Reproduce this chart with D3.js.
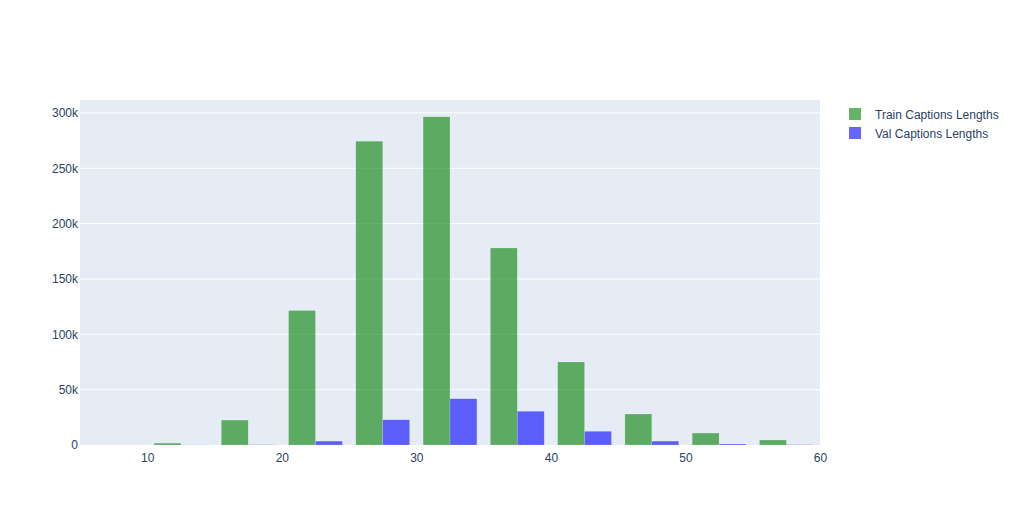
<!DOCTYPE html>
<html>
<head>
<meta charset="utf-8">
<script src="https://cdn.jsdelivr.net/npm/d3@7"></script>
<style>
  body { margin: 0; background: #fff; }
  text { font-family: "Liberation Sans", Arial, sans-serif; fill: #2a3f5f; }
</style>
</head>
<body>
<svg id="chart" width="1016" height="525"></svg>
<script>
// bins of caption length (start of each 5-wide bin)
const binStarts = [5, 10, 15, 20, 25, 30, 35, 40, 45, 50, 55];
const binWidth = 5;
// counts
const trainCounts = [0, 1700, 22500, 121500, 274500, 296500, 178000, 75000, 28000, 10800, 4500];
const valCounts = [0, 100, 200, 3500, 22800, 41800, 30500, 12400, 3500, 900, 300];
const seriesNames = ['Train Captions Lengths', 'Val Captions Lengths'];
const seriesColors = ['green', 'blue'];
const xTicks = [10, 20, 30, 40, 50, 60];
const yTicks = [0, 50000, 100000, 150000, 200000, 250000, 300000];

const svg = d3.select('#chart');
const margin = { left: 80, top: 100, right: 196, bottom: 80 };
const width = 1016 - margin.left - margin.right;
const height = 525 - margin.top - margin.bottom;

const x = d3.scaleLinear().domain([5, 60]).range([0, width]);
const y = d3.scaleLinear().domain([0, 311700]).range([height, 0]);

const g = svg.append('g').attr('transform', `translate(${margin.left},${margin.top})`);

// fond
g.append('rect').attr('width', width).attr('height', height).attr('fill', '#e5ecf6');

// grille
g.selectAll('.grid').data(yTicks.slice(1)).enter()
  .append('line')
  .attr('x1', 0).attr('x2', width)
  .attr('y1', d => y(d)).attr('y2', d => y(d))
  .attr('stroke', '#fff').attr('stroke-width', 1);

// barres groupées
const bargap = 0.2;
const series = [trainCounts, valCounts];
series.forEach((vals, si) => {
  const data = binStarts.map((b, i) => ({ b, v: vals[i] }));
  g.selectAll('.bar' + si).data(data.filter(d => d.v > 0)).enter()
    .append('rect')
    .attr('x', d => {
      const x0 = x(d.b), bw = x(d.b + binWidth) - x0;
      const inner = bw * (1 - bargap);
      return x0 + bw * bargap / 2 + si * inner / 2;
    })
    .attr('width', d => (x(d.b + binWidth) - x(d.b)) * (1 - bargap) / 2)
    .attr('y', d => y(d.v))
    .attr('height', d => height - y(d.v))
    .attr('fill', seriesColors[si])
    .attr('fill-opacity', 0.6)
    .attr('stroke', '#fff')
    .attr('stroke-opacity', 0.35)
    .attr('stroke-width', 0.5);
});

// axes
const yAxis = d3.axisLeft(y).tickValues(yTicks).tickSize(0).tickPadding(2)
  .tickFormat(d => d === 0 ? '0' : d3.format('~s')(d));
const ya = g.append('g').call(yAxis);
ya.select('.domain').remove();
ya.selectAll('text').attr('font-size', 12).attr('fill', '#2a3f5f')
  .style('font-family', '"Liberation Sans", Arial, sans-serif');

const xAxis = d3.axisBottom(x).tickValues(xTicks).tickSize(0).tickPadding(8);
const xa = g.append('g').attr('transform', `translate(0,${height})`).call(xAxis);
xa.select('.domain').remove();
xa.selectAll('text').attr('font-size', 12).attr('fill', '#2a3f5f')
  .style('font-family', '"Liberation Sans", Arial, sans-serif');

// légende
const legend = svg.append('g').attr('transform', 'translate(849,108)');
seriesNames.forEach((name, i) => {
  const row = legend.append('g').attr('transform', `translate(0,${i * 19})`);
  row.append('rect').attr('width', 12).attr('height', 12)
    .attr('fill', seriesColors[i]).attr('fill-opacity', 0.6);
  row.append('text').attr('x', 26).attr('y', 7).attr('dy', '0.35em')
    .attr('font-size', 12).text(name);
});
</script>
</body>
</html>
